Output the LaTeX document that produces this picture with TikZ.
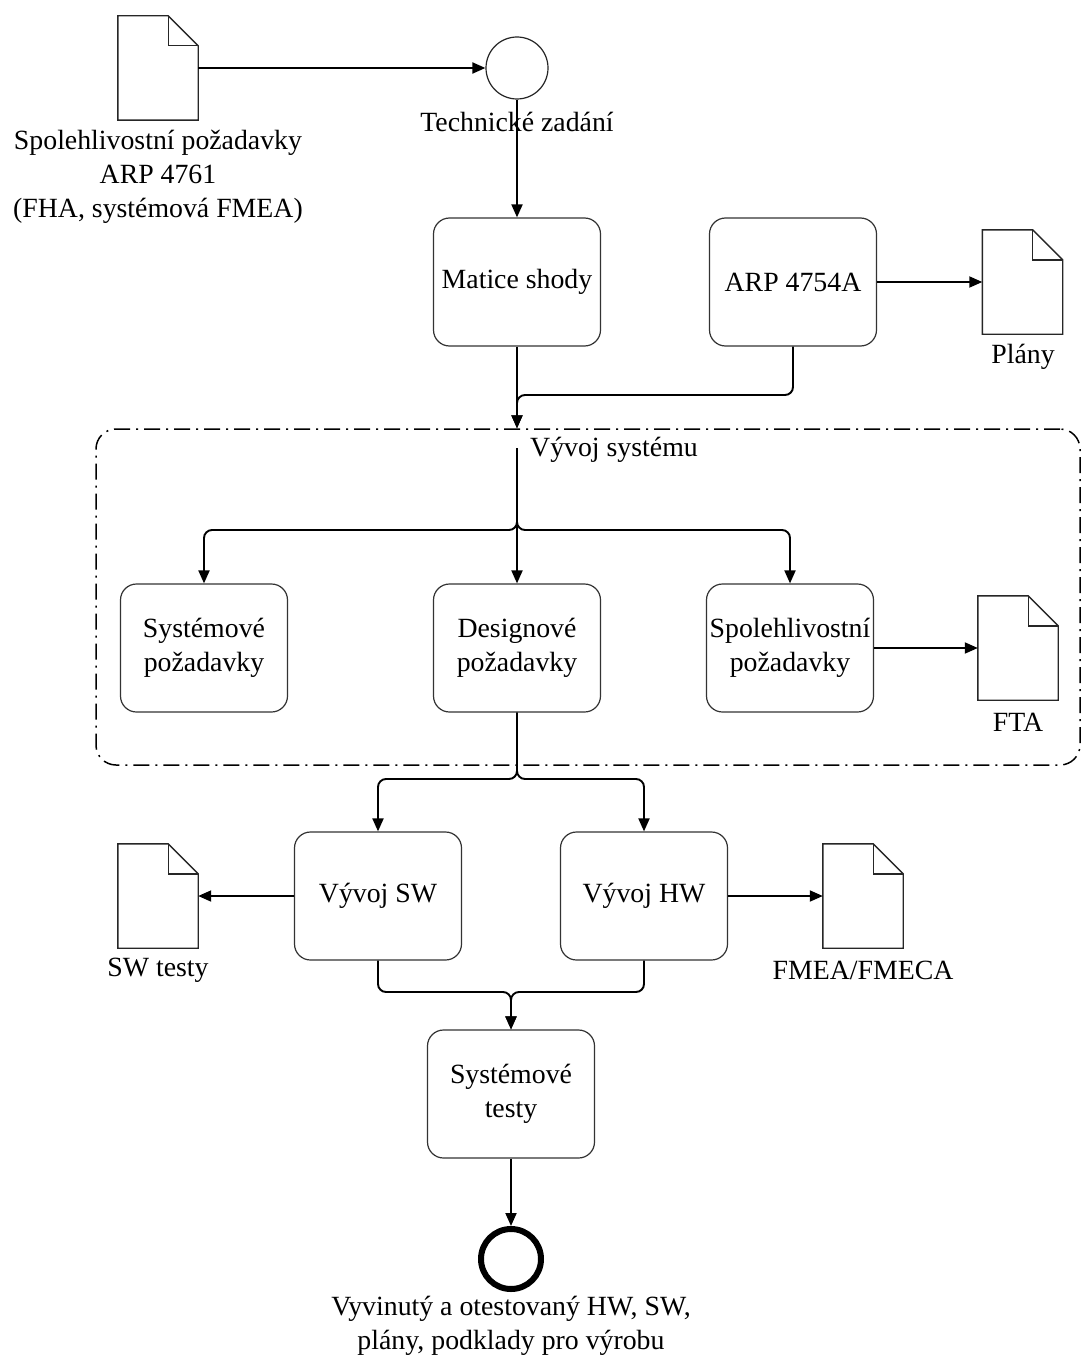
\documentclass[tikz,border=0pt]{standalone}
\usepackage{fontspec}
\setmainfont{Liberation Serif}
\usetikzlibrary{arrows.meta,calc}
\newcommand\drawdoc[1]{%
  \draw[docline] (#1.north west) -- ([xshift=-30pt]#1.north east) -- ([yshift=-30pt]#1.north east) -- (#1.south east) -- (#1.south west) -- cycle;
  \draw[docline] ([xshift=-30pt]#1.north east) -- ([xshift=-30pt,yshift=-30pt]#1.north east) -- ([yshift=-30pt]#1.north east);}
\begin{document}
\begin{tikzpicture}[x=1pt,y=-1pt,
  every node/.style={font=\fontsize{27.8}{34}\selectfont},
  box/.style={draw=black!80, line width=1.2pt, rounded corners=16pt, minimum width=167pt, minimum height=128pt, align=center, inner sep=0pt},
  doc/.style={minimum width=80pt, minimum height=104pt, inner sep=0pt},
  docline/.style={draw=black!85, line width=1.4pt, line join=miter},
  conn/.style={line width=1.9pt, -{Triangle[length=13pt,width=11pt]}, rounded corners=8pt},
  lbl/.style={align=center, inner sep=0pt}]
\useasboundingbox[fill=white] (0,0) rectangle (1082,1362);

% container
\node[draw, line width=1.5pt, dash pattern=on 16pt off 6pt on 2pt off 6pt, rounded corners=20pt, minimum width=984pt, minimum height=336pt, inner sep=0pt] (vyvoj) at (588,597) {};
\node[lbl, anchor=west] (vyvojl) at (530,450) {Vývoj systému};

% documents
\node[doc] (doc1) at (158,68) {};
\node[doc] (plany) at (1022.5,282) {};
\node[doc] (fta) at (1018,648) {};
\node[doc] (swt) at (158,896) {};
\node[doc] (fmea) at (863,896) {};
\drawdoc{doc1}
\drawdoc{plany}
\drawdoc{fta}
\drawdoc{swt}
\drawdoc{fmea}
\node[lbl] (doc1l) at (158,177) {Spolehlivostní požadavky\\ARP 4761\\(FHA, systémová FMEA)};
\node[lbl] (planyl) at (1023,357) {Plány};
\node[lbl] (ftal) at (1018,722) {FTA};
\node[lbl] (swtl) at (158,970) {SW testy};
\node[lbl] (fmeal) at (863,970) {FMEA/FMECA};

% start / end events
\node[circle, draw=black!85, line width=1.2pt, minimum size=62pt, inner sep=0pt] (start) at (517,68) {};
\node[lbl] (startl) at (517,122) {Technické zadání};
\node[circle, draw, line width=6pt, minimum size=60pt, inner sep=0pt] (endc) at (511,1259) {};
\node[lbl] (endl) at (511,1326) {Vyvinutý a otestovaný HW, SW,\\plány, podklady pro výrobu};

% boxes
\node[box] (matice) at (517,282) {Matice shody};
\node[box] (arp) at (793,282) {ARP 4754A};
\node[box] (sysp) at (204,648) {Systémové\\požadavky};
\node[box] (desig) at (517,648) {Designové\\požadavky};
\node[box] (spol) at (790,648) {Spolehlivostní\\požadavky};
\node[box] (vsw) at (378,896) {Vývoj SW};
\node[box] (vhw) at (644,896) {Vývoj HW};
\node[box] (st) at (511,1094) {Systémové\\testy};

% helper coordinates
\coordinate (m1) at (0,395);
\coordinate (vs) at (517,448);
\coordinate (b1) at (0,530);
\coordinate (b2) at (0,779);
\coordinate (b3) at (0,992);

% connectors
\draw[conn] (doc1.east) -- (start.west);
\draw[conn] (start.south) -- (matice.north);
\draw[conn] (arp.east) -- (plany.west);
\draw[conn] (matice.south) -- (matice.south |- vyvoj.north);
\draw[conn] (arp.south) -- (arp.south |- m1) -- (matice.south |- m1) -- (matice.south |- vyvoj.north);
\draw[conn] (vs) -- (vs |- b1) -| (sysp.north);
\draw[conn] (vs) -- (vs |- b1) -| (spol.north);
\draw[conn] (vs) -- (desig.north);
\draw[conn] (spol.east) -- (fta.west);
\draw[conn] (desig.south) -- (desig.south |- b2) -| (vsw.north);
\draw[conn] (desig.south) -- (desig.south |- b2) -| (vhw.north);
\draw[conn] (vsw.west) -- (swt.east);
\draw[conn] (vhw.east) -- (fmea.west);
\draw[conn] (vsw.south) -- (vsw.south |- b3) -- (st.north |- b3) -- (st.north);
\draw[conn] (vhw.south) -- (vhw.south |- b3) -- (st.north |- b3) -- (st.north);
\draw[conn] (st.south) -- (endc.north);
\end{tikzpicture}
\end{document}
